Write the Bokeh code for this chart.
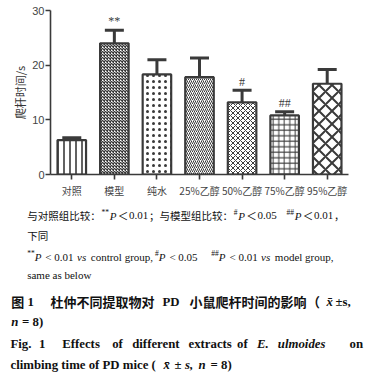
from bokeh.plotting import figure
from bokeh.models import Range1d, Whisker, TeeHead, ColumnDataSource
from bokeh.layouts import column
from bokeh.core.properties import value
from bokeh.embed import file_html
from bokeh.resources import INLINE

# ---------------- data ----------------
cats = ["对照", "模型", "纯水", "25%乙醇", "50%乙醇", "75%乙醇", "95%乙醇"]
means = [6.3, 24.0, 18.3, 17.8, 13.2, 10.8, 16.6]
errs = [0.4, 2.4, 2.7, 3.5, 2.2, 0.7, 2.6]
sig = ["", "**", "", "", "#", "##", ""]
y_ticks = [0, 10, 20, 30]
y_label = "爬杆时间/s"

# ---------------- styles ----------------
INK = "#3a3a3a"
hatches = [
    dict(hatch_pattern="vertical_line", hatch_scale=6, hatch_weight=1.6),
    dict(hatch_pattern="diagonal_cross", hatch_scale=3, hatch_weight=1.3),
    dict(hatch_pattern="dot", hatch_scale=6, hatch_weight=1.2),
    dict(hatch_pattern="right_diagonal_line", hatch_scale=4, hatch_weight=1.0),
    dict(hatch_pattern="diagonal_cross", hatch_scale=5, hatch_weight=1.0),
    dict(hatch_pattern="cross", hatch_scale=5.5, hatch_weight=1.0),
    dict(hatch_pattern="diagonal_cross", hatch_scale=13, hatch_weight=2.0),
]

p = figure(width=369, height=200, x_range=cats, y_range=Range1d(0, 30),
           output_backend="svg", toolbar_location=None,
           min_border_left=50, min_border_right=21, min_border_top=10, min_border_bottom=26)
p.frame_align = False
p.outline_line_color = None
p.grid.grid_line_color = None
p.background_fill_color = "white"

for i, c in enumerate(cats):
    p.vbar(x=[c], top=[means[i]], width=0.67, fill_color="white",
           line_color=INK, line_width=2.2, hatch_color=INK, **hatches[i])

src = ColumnDataSource(dict(x=cats, lower=means, upper=[m + e for m, e in zip(means, errs)],
                            sy=[m + e + 1.6 for m, e in zip(means, errs)], sig=sig))
w = Whisker(base="x", lower="lower", upper="upper", source=src, dimension="height",
            line_color=INK, line_width=3,
            upper_head=TeeHead(size=19, line_color=INK, line_width=3), lower_head=None)
p.add_layout(w)

p.text(x="x", y="sy", text="sig", source=src, text_align="center", text_baseline="middle",
       text_font=value("Liberation Serif"), text_font_size="12px", text_color=INK)

p.yaxis.ticker = y_ticks
p.yaxis.axis_label = y_label
p.yaxis.axis_label_text_font = "Noto Sans CJK SC"
p.yaxis.axis_label_text_font_size = "11px"
p.yaxis.axis_label_text_font_style = "normal"
p.yaxis.axis_label_text_color = "#333333"
p.yaxis.axis_label_standoff = 1
p.yaxis.minor_tick_line_color = None
p.yaxis.major_label_standoff = 1
for ax in (p.xaxis, p.yaxis):
    ax.axis_line_color = INK
    ax.axis_line_width = 1.6
    ax.major_tick_line_color = INK
    ax.major_tick_line_width = 1.6
    ax.major_tick_out = 5
    ax.major_tick_in = 0
    ax.major_label_text_color = "#444444"
p.yaxis.major_label_text_font = "Liberation Sans"
p.yaxis.major_label_text_font_size = "11px"
p.xaxis.major_label_text_font = "Noto Sans CJK SC"
p.xaxis.major_label_text_font_size = "10px"
p.xaxis.major_label_standoff = 3

# ---------------- captions ----------------
q = figure(width=369, height=175, x_range=Range1d(0, 369), y_range=Range1d(375, 200),
           output_backend="svg", toolbar_location=None,
           x_axis_location=None, y_axis_location=None,
           min_border=0, min_border_left=0, min_border_right=0, min_border_top=0, min_border_bottom=0)
q.frame_align = False
q.outline_line_color = None
q.grid.grid_line_color = None

KINDS = {
    "cjk": ("Noto Sans CJK SC", 10.5, "normal", 0),
    "s": ("Liberation Serif", 11, "normal", 0),
    "si": ("Liberation Serif", 11, "italic", 0),
    "sup": ("Liberation Serif", 7.5, "normal", -3.5),
    "cb": ("Noto Sans CJK SC", 13, "bold", 0),
    "sb": ("Liberation Serif", 12.8, "bold", 0),
    "sbi": ("Liberation Serif", 12.8, "bold italic", 0),
}


def ch_w(ch, bold):
    if ch == "\u0304":
        return 0
    if ord(ch) > 0x2E80:
        return 1.0
    if ch.isdigit() or ch in "*#":
        return 0.5
    if ch in " .,":
        return 0.25
    if ch in "<=±":
        return 0.57
    if ch in "()":
        return 0.333
    if ch.isupper():
        return 0.72 if bold else 0.66
    if ch in "il":
        return 0.28
    if ch in "mw":
        return 0.8 if bold else 0.75
    if ch in "ftrj":
        return 0.33
    return 0.52 if bold else 0.47


def est(text, kind):
    f, size, style, _ = KINDS[kind]
    return sum(ch_w(c, "bold" in style) for c in text) * size


def draw(seg, x, y):
    text, kind = seg[0], seg[1]
    f, size, style, dy = KINDS[kind]
    q.text(x=[x], y=[y + dy], text=[text], text_font=value(f), text_font_size=f"{size}px",
           text_font_style=style, text_color="#111111", text_baseline="middle", text_align="left")


def line(segs, x0, y, x_end=None):
    """segs: (text, kind[, gap]) ; justification spreads leftover space over the gaps"""
    widths = [est(s[0], s[1]) for s in segs]
    gaps = [s[2] if len(s) > 2 else None for s in segs]
    if all(g is None for g in gaps):
        weights = [0] + [1.0] * (len(segs) - 1)
        gaps = [0.0] * len(segs)
    else:
        gaps = [g or 0.0 for g in gaps]
        weights = gaps[:]
    extra = 0.0
    if x_end is not None and sum(weights) > 0:
        extra = (x_end - x0 - sum(widths) - sum(gaps)) / sum(weights)
    x = x0
    for s, wd, g, wt in zip(segs, widths, gaps, weights):
        x += g + wt * extra
        draw(s, x, y)
        x += wd


line([("与对照组比较：", "cjk"), ("**", "sup"), ("P", "si"), ("＜", "cjk"), ("0.01", "s"),
      ("；与模型组比较：", "cjk"), ("#", "sup"), ("P", "si"), ("＜", "cjk"), ("0.05", "s"),
      ("   ", "s"), ("##", "sup"), ("P", "si"), ("＜", "cjk"), ("0.01", "s"), ("，", "cjk")],
     26.7, 215, 344)
line([("下同", "cjk")], 26.7, 235)
line([("**", "sup", 0), ("P", "si", 0), ("< 0.01", "s", 3), ("vs", "si", 3),
      ("control group,", "s", 3), ("#", "sup", 3), ("P", "si", 0), ("< 0.05", "s", 3),
      ("##", "sup", 12), ("P", "si", 0), ("< 0.01", "s", 3), ("vs", "si", 3),
      ("model group,", "s", 3)], 26.7, 256, 331)
line([("same as below", "s")], 26.7, 274)

for t, k, x in [("图", "cb", 10.7), ("1", "sb", 27), ("杜仲不同提取物对", "cb", 50),
                ("PD", "sb", 162), ("小鼠爬杆时间的影响", "cb", 189), ("（", "cb", 306.5),
                ("x\u0304", "sbi", 326), ("±s,", "sb", 335)]:
    draw((t, k), x, 301)
for t, k, x in [("n", "sbi", 10.7), ("= 8)", "sb", 21.5)]:
    draw((t, k), x, 321.5)
for t, k, x in [("Fig.", "sb", 10), ("1", "sb", 38.5), ("Effects", "sb", 61.7), ("of", "sb", 111.7),
                ("different", "sb", 131.7), ("extracts", "sb", 188), ("of", "sb", 236.5),
                ("E.", "sbi", 256.5), ("ulmoides", "sbi", 277.3), ("on", "sb", 349)]:
    draw((t, k), x, 343)
for t, k, x in [("climbing time of PD mice (", "sb", 10), ("x\u0304", "sbi", 163),
                ("±", "sb", 174), ("s,", "sbi", 184.5), ("n", "sbi", 198), ("= 8)", "sb", 210)]:
    draw((t, k), x, 364.5)

layout = column(p, q, spacing=0)
open("out.html", "w").write(file_html(layout, INLINE))
